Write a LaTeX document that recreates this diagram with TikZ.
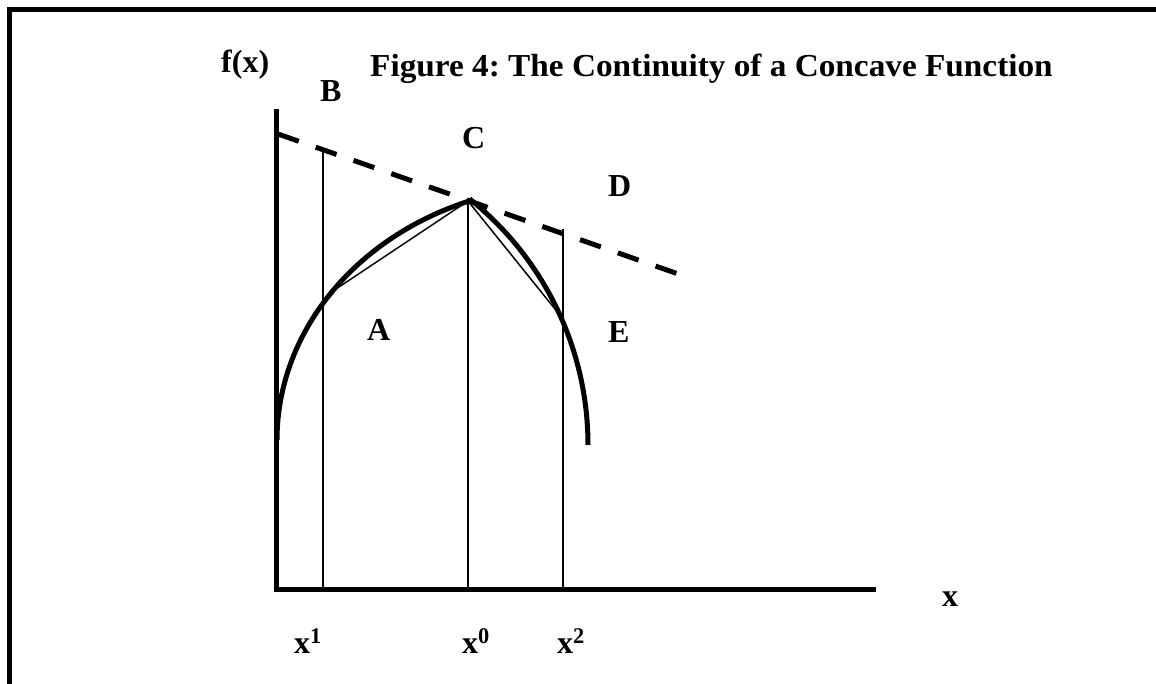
\documentclass[tikz,border=0pt]{standalone}
\usepackage{fontspec}
\setmainfont{Liberation Serif}
\frenchspacing
\begin{document}
\begin{tikzpicture}[x=1pt,y=-1pt,
  thick line/.style={line width=5pt},
  thin line/.style={line width=1.5pt},
  supp/.style={line width=5pt, dash pattern=on 22pt off 18pt},
  lbl/.style={anchor=base west, inner sep=0pt, font=\fontsize{32}{36}\selectfont\bfseries}]
\useasboundingbox (0,0) rectangle (1156,684);
% frame
\coordinate (fr1) at (1156,10);
\coordinate (fr2) at (9,10);
\coordinate (fr3) at (9,684);
\draw[thick line, line join=miter] (fr1) -- (fr2) -- (fr3);
% axes
\coordinate (O) at (276,589);
\coordinate (ytop) at (276,109);
\coordinate (xend) at (876,589);
\draw[thick line, line join=miter] (ytop) -- (O) -- (xend);
% points
\coordinate (C) at (468,201);
\coordinate (Bp) at (323,152);
\coordinate (Dp) at (563,229);
\coordinate (x1b) at (323,589);
\coordinate (x0b) at (468,589);
\coordinate (x2b) at (563,589);
\coordinate (Ap) at (333,291);
\coordinate (Ep) at (563,319);
\coordinate (ds) at (278,134);
\coordinate (de) at (684,276);
% supporting line
\draw[supp] (ds) -- (de);
% verticals
\draw[thin line] (Bp) -- (x1b);
\draw[thin line] (C) -- (x0b);
\draw[thin line] (Dp) -- (x2b);
% concave function
\draw[thick line] plot[domain=180:110.6, samples=80, smooth] ({572+295*cos(\x)},{440-255*sin(\x)});
\draw[thick line] plot[domain=51.4:0, samples=60, smooth] ({273+315*cos(\x)},{445-315*sin(\x)});
% chords
\draw[thin line] (Ap) -- (C) -- (Ep);
% labels
\node[lbl] (fx) at (221,73) {f(x)};
\node[lbl] (title) at (370,77) {\scalebox{1.04}[1]{Figure 4: The Continuity of a Concave Function}};
\node[lbl] (lB) at (320,102) {B};
\node[lbl] (lC) at (462,149) {C};
\node[lbl] (lD) at (608,197) {D};
\node[lbl] (lA) at (367,341) {A};
\node[lbl] (lE) at (608,342) {E};
\node[lbl] (lx) at (942,606) {x};
\node[lbl] (lx1) at (294,653) {x\textsuperscript{1}};
\node[lbl] (lx0) at (462,653) {x\textsuperscript{0}};
\node[lbl] (lx2) at (557,653) {x\textsuperscript{2}};
\end{tikzpicture}
\end{document}
